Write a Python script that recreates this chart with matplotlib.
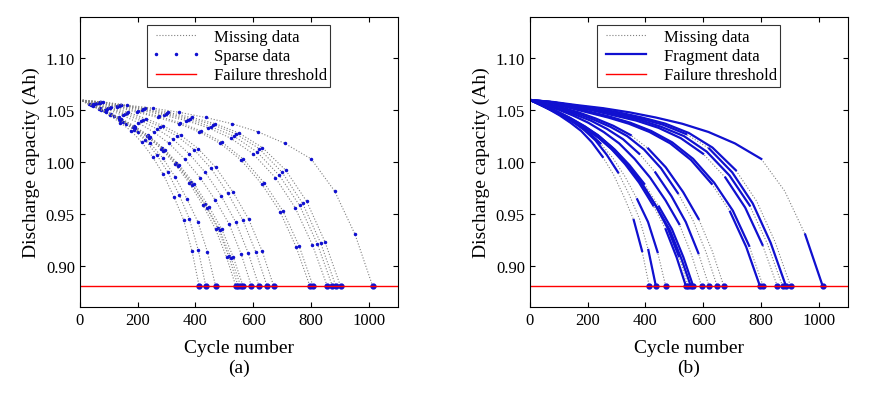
import matplotlib.pyplot as plt
import numpy as np

plt.rcParams['font.family'] = ['Liberation Serif', 'DejaVu Serif']
plt.rcParams['font.size'] = 13

# fraction of life at which capacities were read
life_frac = [0, 0.08, 0.16, 0.25, 0.34, 0.43, 0.52, 0.61, 0.70, 0.79, 0.87, 0.94, 1.0]
# end-of-life cycle per cell
eol = [413, 436, 470, 540, 548, 557, 565, 594, 620, 648, 671, 796, 807, 856, 874, 886, 902, 1013]
# discharge capacity (Ah) per cell at life_frac
caps = [
    [1.06, 1.056, 1.051, 1.045, 1.038, 1.030, 1.019, 1.005, 0.988, 0.966, 0.944, 0.914, 0.88],
    [1.06, 1.056, 1.052, 1.046, 1.039, 1.031, 1.021, 1.007, 0.990, 0.968, 0.945, 0.915, 0.88],
    [1.06, 1.055, 1.050, 1.044, 1.037, 1.029, 1.018, 1.004, 0.986, 0.964, 0.942, 0.913, 0.88],
    [1.06, 1.055, 1.049, 1.042, 1.034, 1.025, 1.013, 0.998, 0.980, 0.958, 0.935, 0.908, 0.88],
    [1.06, 1.055, 1.050, 1.043, 1.035, 1.026, 1.014, 0.999, 0.981, 0.959, 0.936, 0.909, 0.88],
    [1.06, 1.054, 1.048, 1.041, 1.033, 1.023, 1.011, 0.996, 0.978, 0.956, 0.934, 0.907, 0.88],
    [1.06, 1.055, 1.049, 1.042, 1.034, 1.024, 1.012, 0.997, 0.979, 0.957, 0.935, 0.908, 0.88],
    [1.06, 1.056, 1.051, 1.045, 1.038, 1.029, 1.018, 1.003, 0.985, 0.963, 0.940, 0.911, 0.88],
    [1.06, 1.056, 1.052, 1.046, 1.040, 1.032, 1.022, 1.008, 0.990, 0.967, 0.942, 0.912, 0.88],
    [1.06, 1.056, 1.052, 1.047, 1.041, 1.034, 1.025, 1.012, 0.994, 0.970, 0.944, 0.913, 0.88],
    [1.06, 1.057, 1.053, 1.048, 1.042, 1.035, 1.026, 1.013, 0.995, 0.971, 0.945, 0.914, 0.88],
    [1.06, 1.057, 1.053, 1.048, 1.043, 1.037, 1.029, 1.018, 1.002, 0.979, 0.952, 0.918, 0.88],
    [1.06, 1.057, 1.054, 1.049, 1.044, 1.038, 1.030, 1.019, 1.003, 0.980, 0.953, 0.919, 0.88],
    [1.06, 1.057, 1.054, 1.050, 1.045, 1.040, 1.033, 1.023, 1.008, 0.985, 0.956, 0.920, 0.88],
    [1.06, 1.058, 1.055, 1.051, 1.046, 1.041, 1.034, 1.025, 1.010, 0.987, 0.958, 0.921, 0.88],
    [1.06, 1.058, 1.055, 1.051, 1.047, 1.042, 1.036, 1.027, 1.013, 0.990, 0.960, 0.922, 0.88],
    [1.06, 1.058, 1.055, 1.052, 1.048, 1.043, 1.037, 1.028, 1.014, 0.992, 0.962, 0.923, 0.88],
    [1.06, 1.058, 1.055, 1.052, 1.048, 1.043, 1.037, 1.029, 1.018, 1.003, 0.972, 0.930, 0.88],
]
# index ranges kept as fragments in panel (b)
fragments = [
    [(0, 7), (10, 11)], [(0, 8), (11, 12)], [(0, 6), (9, 11)], [(0, 9), (10, 12)],
    [(0, 11)], [(0, 12)], [(0, 8), (9, 12)], [(0, 10)], [(0, 7), (8, 11)],
    [(0, 9)], [(0, 6), (7, 10)], [(0, 9), (10, 12)], [(0, 11)], [(0, 8), (9, 11)],
    [(0, 10)], [(0, 7), (8, 12)], [(0, 9)], [(0, 9), (11, 12)],
]
threshold = 0.88


def setup(ax, label):
    ax.set_xlim(0, 1100)
    ax.set_ylim(0.86, 1.14)
    ax.set_xticks([0, 200, 400, 600, 800, 1000])
    ax.set_yticks([0.90, 0.95, 1.00, 1.05, 1.10])
    ax.yaxis.set_major_formatter(plt.FormatStrFormatter('%.2f'))
    ax.tick_params(direction='in', top=True, right=True, labelsize=12)
    ax.set_xlabel('Cycle number\n(%s)' % label, fontsize=14, labelpad=8)
    ax.set_ylabel('Discharge capacity (Ah)', fontsize=14)
    ax.axhline(threshold, color='red', lw=1, label='Failure threshold')


fig = plt.figure(figsize=(8.86, 4.02), dpi=100)
ax1 = fig.add_axes([0.090, 0.234, 0.359, 0.721])
ax2 = fig.add_axes([0.598, 0.234, 0.359, 0.721])

frac = np.array(life_frac)
for i, (e, c) in enumerate(zip(eol, caps)):
    x = frac * e
    c = np.array(c)
    for ax in (ax1, ax2):
        ax.plot(x, c, ':', color='gray', lw=0.8, label='Missing data' if i == 0 else None)
    ax1.plot(x[1:], c[1:], '.', color='#1010d0', ms=3, ls='none',
             label='Sparse data' if i == 0 else None)
    ax1.plot(x[-1], c[-1], 'o', color='#1010d0', ms=3.5)
    for j, (a, b) in enumerate(fragments[i]):
        ax2.plot(x[a:b + 1], c[a:b + 1], '-', color='#1010d0', lw=1.6,
                 label='Fragment data' if (i == 0 and j == 0) else None)
    ax2.plot(x[-1], c[-1], 'o', color='#1010d0', ms=3.5)

setup(ax1, 'a')
setup(ax2, 'b')
for ax in (ax1, ax2):
    h, l = ax.get_legend_handles_labels()
    order = [l.index('Missing data'), 1 if ax is ax1 else l.index('Fragment data'), l.index('Failure threshold')]
    if ax is ax1:
        order[1] = l.index('Sparse data')
    leg = ax.legend([h[k] for k in order], [l[k] for k in order], loc='upper center',
                    fancybox=False, edgecolor='black', fontsize=12, numpoints=3,
                    borderpad=0.2, labelspacing=0.2, handlelength=3)
    leg.get_frame().set_linewidth(0.8)

fig.savefig('out.png', dpi=100)
